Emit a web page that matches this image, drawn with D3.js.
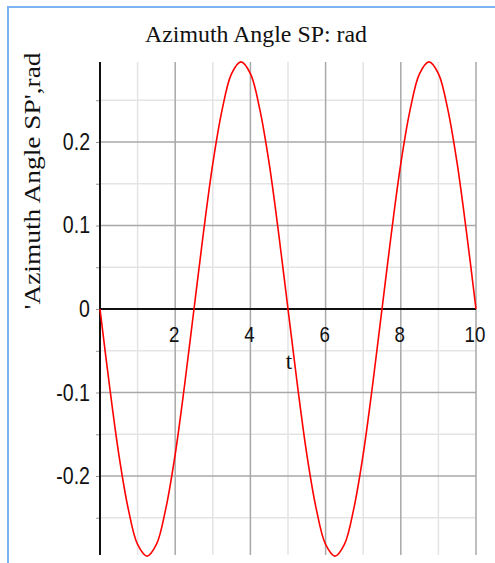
<!DOCTYPE html>
<html>
<head>
<meta charset="utf-8">
<script src="https://cdn.jsdelivr.net/npm/d3@7"></script>
<style>
  body { margin: 0; background: #fff; }
  svg { display: block; }
</style>
</head>
<body>
<div id="chart"></div>
<script>
// values, t in steps of 0.25
var tValues = d3.range(0, 10.001, 0.25);
var angleValues = [
    0, -0.091, -0.174, -0.239, -0.282, -0.296, -0.282, -0.239, -0.174, -0.091,
    0, 0.091, 0.174, 0.239, 0.282, 0.296, 0.282, 0.239, 0.174, 0.091,
    0, -0.091, -0.174, -0.239, -0.282, -0.296, -0.282, -0.239, -0.174, -0.091,
    0, 0.091, 0.174, 0.239, 0.282, 0.296, 0.282, 0.239, 0.174, 0.091,
    0
];
var xMajorTicks = [2, 4, 6, 8, 10];
var xMinorTicks = [1, 3, 5, 7, 9];
var yMajorTicks = [-0.2, -0.1, 0, 0.1, 0.2];
var yMinorTicks = [-0.25, -0.15, -0.05, 0.05, 0.15, 0.25];

var width = 495, height = 563;
var svg = d3.select("#chart").append("svg")
    .attr("width", width)
    .attr("height", height);

// blue frame on the left and top
svg.append("path")
    .attr("d", "M8,563 L8,7 L495,7")
    .attr("fill", "none")
    .attr("stroke", "#7ab2f2")
    .attr("stroke-width", 2);

var x = d3.scaleLinear().domain([0, 10]).range([100, 476]);
var y = d3.scaleLinear().domain([-0.2946, 0.2958]).range([555, 62]);

var grid = svg.append("g");
// minor grid
grid.selectAll(".vminor").data(xMinorTicks).enter().append("line")
    .attr("x1", function(d) { return x(d); }).attr("x2", function(d) { return x(d); })
    .attr("y1", y.range()[1]).attr("y2", y.range()[0])
    .attr("stroke", "#e4e4e4").attr("stroke-width", 1.5);
grid.selectAll(".hminor").data(yMinorTicks).enter().append("line")
    .attr("x1", x(0)).attr("x2", x(10))
    .attr("y1", function(d) { return y(d); }).attr("y2", function(d) { return y(d); })
    .attr("stroke", "#e4e4e4").attr("stroke-width", 1.5);
// major grid
grid.selectAll(".vmajor").data(xMajorTicks).enter().append("line")
    .attr("x1", function(d) { return x(d); }).attr("x2", function(d) { return x(d); })
    .attr("y1", y.range()[1]).attr("y2", y.range()[0])
    .attr("stroke", "#a8a8a8").attr("stroke-width", 1.5);
grid.selectAll(".hmajor").data(yMajorTicks.filter(function(d) { return d !== 0; })).enter().append("line")
    .attr("x1", x(0)).attr("x2", x(10))
    .attr("y1", function(d) { return y(d); }).attr("y2", function(d) { return y(d); })
    .attr("stroke", "#a8a8a8").attr("stroke-width", 1.5);

// y axis with small ticks
var yAxis = d3.axisLeft(y)
    .tickValues(yMajorTicks.concat(yMinorTicks))
    .tickSize(4)
    .tickFormat("");
var yg = svg.append("g").attr("transform", "translate(" + x(0) + ",0)").call(yAxis);
yg.select(".domain").remove();
yg.selectAll(".tick line").attr("stroke", "#999");
svg.append("line")
    .attr("x1", x(0)).attr("x2", x(0))
    .attr("y1", y.range()[1]).attr("y2", y.range()[0])
    .attr("stroke", "#111").attr("stroke-width", 2);
svg.append("line")
    .attr("x1", x(0)).attr("x2", x(10))
    .attr("y1", y(0)).attr("y2", y(0))
    .attr("stroke", "#111").attr("stroke-width", 2);

// tick labels (narrow, tall digits like the original)
svg.selectAll(".ylab").data(yMajorTicks).enter().append("text")
    .attr("transform", function(d) { return "translate(90," + (y(d) + 8) + ") scale(0.85,1)"; })
    .attr("text-anchor", "end")
    .attr("font-family", "Liberation Sans, Arial, sans-serif")
    .attr("font-size", 23)
    .attr("fill", "#111")
    .text(function(d) { return d === 0 ? "0" : d3.format(".1f")(d).replace("\u2212", "-"); });

svg.selectAll(".xlab").data(xMajorTicks).enter().append("text")
    .attr("transform", function(d) { return "translate(" + (x(d) - 1) + "," + (y(0) + 33) + ") scale(0.85,1)"; })
    .attr("text-anchor", "middle")
    .attr("font-family", "Liberation Sans, Arial, sans-serif")
    .attr("font-size", 22)
    .attr("fill", "#111")
    .text(function(d) { return d; });

// curve
var line = d3.line()
    .x(function(d, i) { return x(tValues[i]); })
    .y(function(d) { return y(d); })
    .curve(d3.curveCatmullRom);
svg.append("path")
    .datum(angleValues)
    .attr("d", line)
    .attr("fill", "none")
    .attr("stroke", "#ff0000")
    .attr("stroke-width", 1.6);

// titles
svg.append("text")
    .attr("x", 256).attr("y", 42)
    .attr("text-anchor", "middle")
    .attr("font-family", "Liberation Serif, Times New Roman, serif")
    .attr("font-size", 23)
    .attr("textLength", 222)
    .attr("lengthAdjust", "spacingAndGlyphs")
    .attr("fill", "#111")
    .text("Azimuth Angle SP: rad");

svg.append("text")
    .attr("transform", "translate(40,181) rotate(-90)")
    .attr("text-anchor", "middle")
    .attr("font-family", "Liberation Serif, Times New Roman, serif")
    .attr("font-size", 23)
    .attr("textLength", 257)
    .attr("lengthAdjust", "spacingAndGlyphs")
    .attr("fill", "#111")
    .text("'Azimuth Angle SP',rad");

svg.append("text")
    .attr("x", 289).attr("y", 369)
    .attr("text-anchor", "middle")
    .attr("font-family", "Liberation Serif, Times New Roman, serif")
    .attr("font-size", 23)
    .attr("fill", "#111")
    .text("t");
</script>
</body>
</html>
